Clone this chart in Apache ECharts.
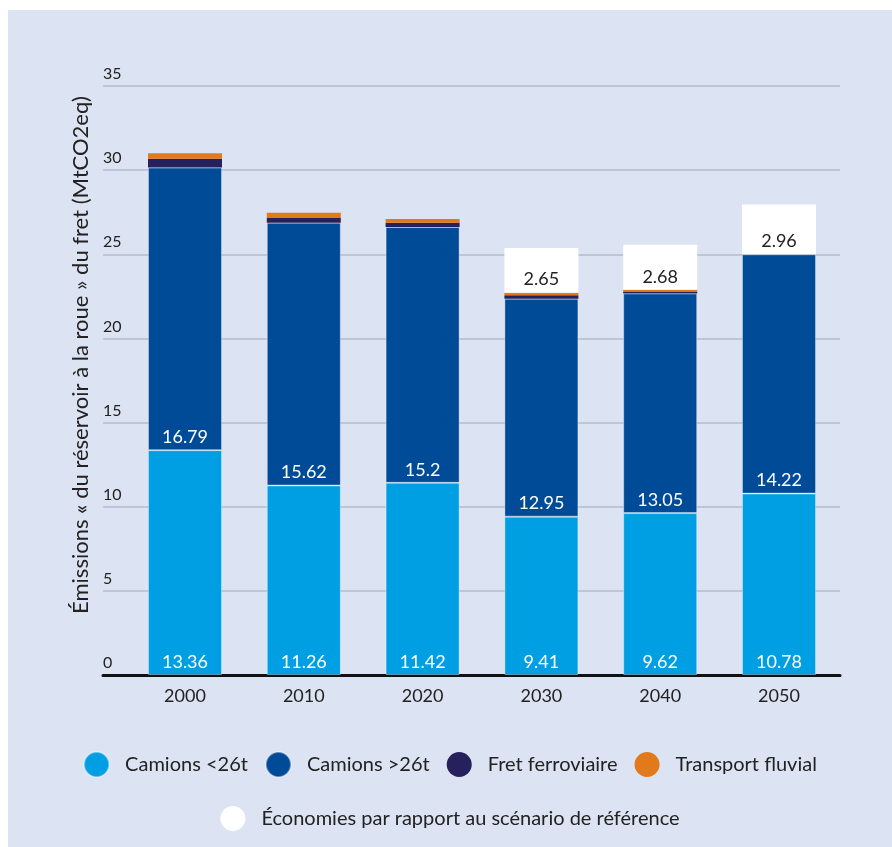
<!DOCTYPE html>
<html>
<head>
<meta charset="utf-8">
<script src="https://cdn.jsdelivr.net/npm/echarts@6/dist/echarts.min.js"></script>
<style>
  html, body { margin: 0; padding: 0; background: #ffffff; }
  #chart { position: absolute; left: 8px; top: 10px; width: 884px; height: 837px; background: #dce3f2; }
</style>
</head>
<body>
<div id="chart"></div>
<script>
  var years = ['2000', '2010', '2020', '2030', '2040', '2050'];
  var camionsPetits = [13.36, 11.26, 11.42, 9.41, 9.62, 10.78];
  var camionsGros = [16.79, 15.62, 15.2, 12.95, 13.05, 14.22];
  var fretFerroviaire = [0.52, 0.27, 0.26, 0.2, 0.12, 0];
  var transportFluvial = [0.33, 0.32, 0.22, 0.16, 0.1, 0];
  var economies = ['-', '-', '-', 2.65, 2.68, 2.96];
  var yTicks = [0, 5, 10, 15, 20, 25, 30, 35];

  var FONT = 'Lato';
  var chart = echarts.init(document.getElementById('chart'));

  function labelStyle(color) {
    return {
      show: true,
      position: 'insideBottom',
      distance: 4,
      color: color,
      fontFamily: FONT,
      fontSize: 18
    };
  }

  var option = {
    animation: false,
    textStyle: { fontFamily: FONT },
    grid: [
      // lignes de grille + axe noir
      { left: 95, right: 52, top: 76, bottom: 172 },
      // barres
      { left: 117.6, right: 53.6, top: 76, bottom: 172 }
    ],
    xAxis: [
      {
        gridIndex: 0, type: 'value', min: 0, max: 1,
        axisLine: { show: true, lineStyle: { color: '#111', width: 3 } },
        axisTick: { show: false }, axisLabel: { show: false }, splitLine: { show: false }
      },
      {
        gridIndex: 1, type: 'category', data: years,
        axisLine: { show: false }, axisTick: { show: false },
        axisLabel: { color: '#222', fontSize: 18, margin: 12, fontFamily: FONT }
      }
    ],
    yAxis: [
      {
        gridIndex: 0, type: 'value', min: 0, max: 35, interval: 5,
        axisLine: { show: false }, axisTick: { show: false },
        axisLabel: {
          inside: true, margin: 0, align: 'left', verticalAlign: 'bottom',
          padding: [0, 0, 4, 0], color: '#222', fontSize: 16, fontFamily: FONT,
          formatter: function (v) { return yTicks.indexOf(v) >= 0 ? String(v) : ''; }
        },
        splitLine: { show: true, lineStyle: { color: '#b4bbc9', width: 1.5 } }
      },
      {
        gridIndex: 1, type: 'value', min: 0, max: 35, show: false,
        splitLine: { show: false }
      }
    ],
    legend: [
      {
        data: ['Camions <26t', 'Camions >26t', 'Fret ferroviaire', 'Transport fluvial'],
        left: 'center', top: 736, icon: 'circle', itemWidth: 25, itemHeight: 25, itemGap: 17,
        textStyle: { color: '#222', fontSize: 20, fontFamily: FONT, padding: [0, 0, 0, 11] }
      },
      {
        data: ['Économies par rapport au scénario de référence'],
        left: 'center', top: 791, icon: 'circle', itemWidth: 25, itemHeight: 25,
        textStyle: { color: '#222', fontSize: 20, fontFamily: FONT, padding: [0, 0, 0, 11] }
      }
    ],
    graphic: [
      {
        type: 'text', x: 73, y: 345, rotation: Math.PI / 2,
        style: {
          text: 'Émissions « du réservoir à la roue » du fret (MtCO2eq)',
          fill: '#222', fontSize: 22, fontFamily: FONT,
          align: 'center', verticalAlign: 'middle'
        }
      }
    ],
    series: [
      {
        name: 'Camions <26t', type: 'bar', stack: 'total', xAxisIndex: 1, yAxisIndex: 1,
        barWidth: 74, data: camionsPetits,
        itemStyle: { color: '#009fe3', borderColor: 'rgba(255,255,255,0.35)', borderWidth: 1 },
        label: labelStyle('#ffffff')
      },
      {
        name: 'Camions >26t', type: 'bar', stack: 'total', xAxisIndex: 1, yAxisIndex: 1,
        barWidth: 74, data: camionsGros,
        itemStyle: { color: '#004b97', borderColor: 'rgba(255,255,255,0.35)', borderWidth: 1 },
        label: labelStyle('#ffffff')
      },
      {
        name: 'Fret ferroviaire', type: 'bar', stack: 'total', xAxisIndex: 1, yAxisIndex: 1,
        barWidth: 74, data: fretFerroviaire,
        itemStyle: { color: '#26215c' }
      },
      {
        name: 'Transport fluvial', type: 'bar', stack: 'total', xAxisIndex: 1, yAxisIndex: 1,
        barWidth: 74, data: transportFluvial,
        itemStyle: { color: '#e27a1c' }
      },
      {
        name: 'Économies par rapport au scénario de référence', type: 'bar', stack: 'total',
        xAxisIndex: 1, yAxisIndex: 1, barWidth: 74, data: economies,
        itemStyle: { color: '#ffffff' },
        label: labelStyle('#222')
      }
    ]
  };

  chart.setOption(option);
</script>
</body>
</html>
